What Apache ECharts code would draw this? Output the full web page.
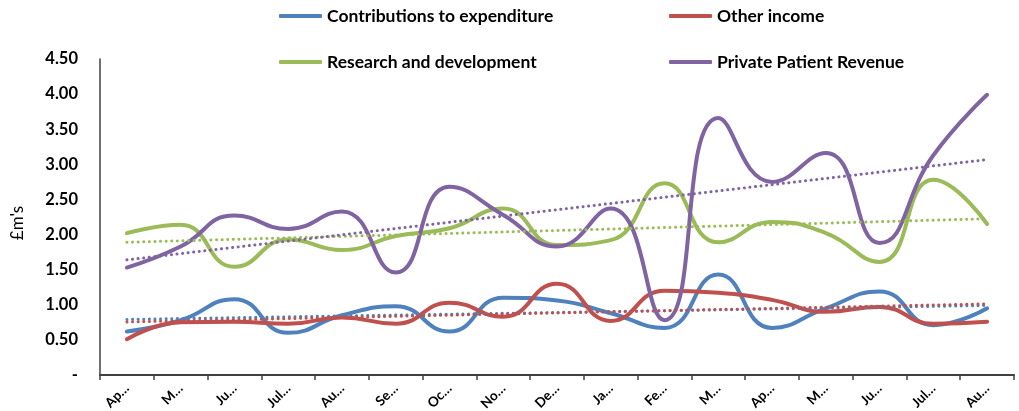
<!DOCTYPE html>
<html>
<head>
<meta charset="utf-8">
<script src="https://cdn.jsdelivr.net/npm/echarts@6/dist/echarts.min.js"></script>
<style>
  html, body { margin: 0; padding: 0; background: #fff; }
  #chart { width: 1019px; height: 411px; }
</style>
</head>
<body>
<div id="chart"></div>
<script>
// Month labels as they appear on the category axis
const monthLabels = ['Ap\u2026', 'M\u2026', 'Ju\u2026', 'Jul\u2026', 'Au\u2026', 'Se\u2026', 'Oc\u2026', 'No\u2026', 'De\u2026',
                     'Ja\u2026', 'Fe\u2026', 'M\u2026', 'Ap\u2026', 'M\u2026', 'Ju\u2026', 'Jul\u2026', 'Au\u2026'];

// Monthly income, £m
const contributions = [0.62, 0.78, 1.08, 0.60, 0.85, 0.98, 0.62, 1.10, 1.06, 0.88, 0.67, 1.43, 0.67, 0.95, 1.19, 0.71, 0.95];
const otherIncome   = [0.51, 0.75, 0.76, 0.73, 0.82, 0.73, 1.03, 0.83, 1.30, 0.77, 1.20, 1.17, 1.07, 0.90, 0.97, 0.73, 0.76];
const research      = [2.02, 2.14, 1.54, 1.93, 1.78, 1.98, 2.09, 2.37, 1.85, 1.92, 2.73, 1.89, 2.18, 2.02, 1.61, 2.78, 2.15];
const privatePatient = [1.53, 1.83, 2.27, 2.08, 2.33, 1.46, 2.68, 2.28, 1.83, 2.37, 0.78, 3.66, 2.75, 3.16, 1.88, 3.13, 3.99];

const seriesNames = ['Contributions to expenditure', 'Other income', 'Research and development', 'Private Patient Revenue'];
const seriesColors = ['#4F81BD', '#C0504D', '#9BBB59', '#8064A2'];
const seriesValues = [contributions, otherIncome, research, privatePatient];

// Least-squares linear trend over the month index
function linearTrend(values) {
  const n = values.length;
  let sx = 0, sy = 0, sxx = 0, sxy = 0;
  values.forEach((v, i) => { sx += i; sy += v; sxx += i * i; sxy += i * v; });
  const slope = (n * sxy - sx * sy) / (n * sxx - sx * sx);
  const intercept = (sy - slope * sx) / n;
  return values.map((_, i) => +(intercept + slope * i).toFixed(4));
}

const FONT = 'Lato, "Liberation Sans", sans-serif';

const lineSeries = seriesValues.map((vals, k) => ({
  name: seriesNames[k],
  type: 'line',
  data: vals,
  smooth: 0.5,
  symbol: 'none',
  lineStyle: { width: 4, color: seriesColors[k], cap: 'round', join: 'round' },
  itemStyle: { color: seriesColors[k] },
  z: 2
}));

const trendSeries = seriesValues.map((vals, k) => ({
  name: seriesNames[k] + ' trend',
  type: 'line',
  data: linearTrend(vals),
  symbol: 'none',
  silent: true,
  lineStyle: { width: 3, color: seriesColors[k], type: [0.1, 5.5], cap: 'round' },
  z: 3
}));

const legendCommon = {
  orient: 'vertical',
  padding: 0,
  itemWidth: 43,
  itemHeight: 4,
  itemGap: 26,
  icon: 'roundRect',
  textStyle: { fontFamily: FONT, fontWeight: 'bold', fontSize: 17.5, color: '#000', lineHeight: 20 }
};

const chart = echarts.init(document.getElementById('chart'), null, { renderer: 'canvas' });
chart.setOption({
  animation: false,
  backgroundColor: '#fff',
  legend: [
    Object.assign({ left: 279, top: 6, data: [seriesNames[0], seriesNames[2]] }, legendCommon),
    Object.assign({ left: 669, top: 6, data: [seriesNames[1], seriesNames[3]] }, legendCommon)
  ],
  grid: { left: 100, right: 5, top: 59, bottom: 36, containLabel: false, outerBoundsMode: 'none' },
  xAxis: {
    type: 'category',
    data: monthLabels,
    boundaryGap: true,
    axisLine: { lineStyle: { color: '#404040', width: 2 } },
    axisTick: { show: true, length: 5, lineStyle: { color: '#404040', width: 1.5 } },
    axisLabel: {
      rotate: 45, interval: 0, margin: 11,
      fontFamily: FONT, fontWeight: 'bold', fontSize: 13.5, color: '#000'
    },
    splitLine: { show: false }
  },
  yAxis: {
    type: 'value',
    min: 0, max: 4.5, interval: 0.5,
    name: "\u00a3m's",
    nameLocation: 'middle',
    nameRotate: 90,
    nameGap: 74,
    nameTextStyle: { fontFamily: FONT, fontSize: 17, color: '#000', padding: [0, 0, 0, -12] },
    axisLine: { show: true, lineStyle: { color: '#404040', width: 1.5 } },
    axisTick: { show: false },
    splitLine: { show: false },
    axisLabel: {
      margin: 22,
      fontFamily: FONT, fontWeight: 'bold', fontSize: 16.5, color: '#000',
      formatter: v => (v === 0 ? '-' : v.toFixed(2))
    }
  },
  series: lineSeries.concat(trendSeries)
});
</script>
</body>
</html>
